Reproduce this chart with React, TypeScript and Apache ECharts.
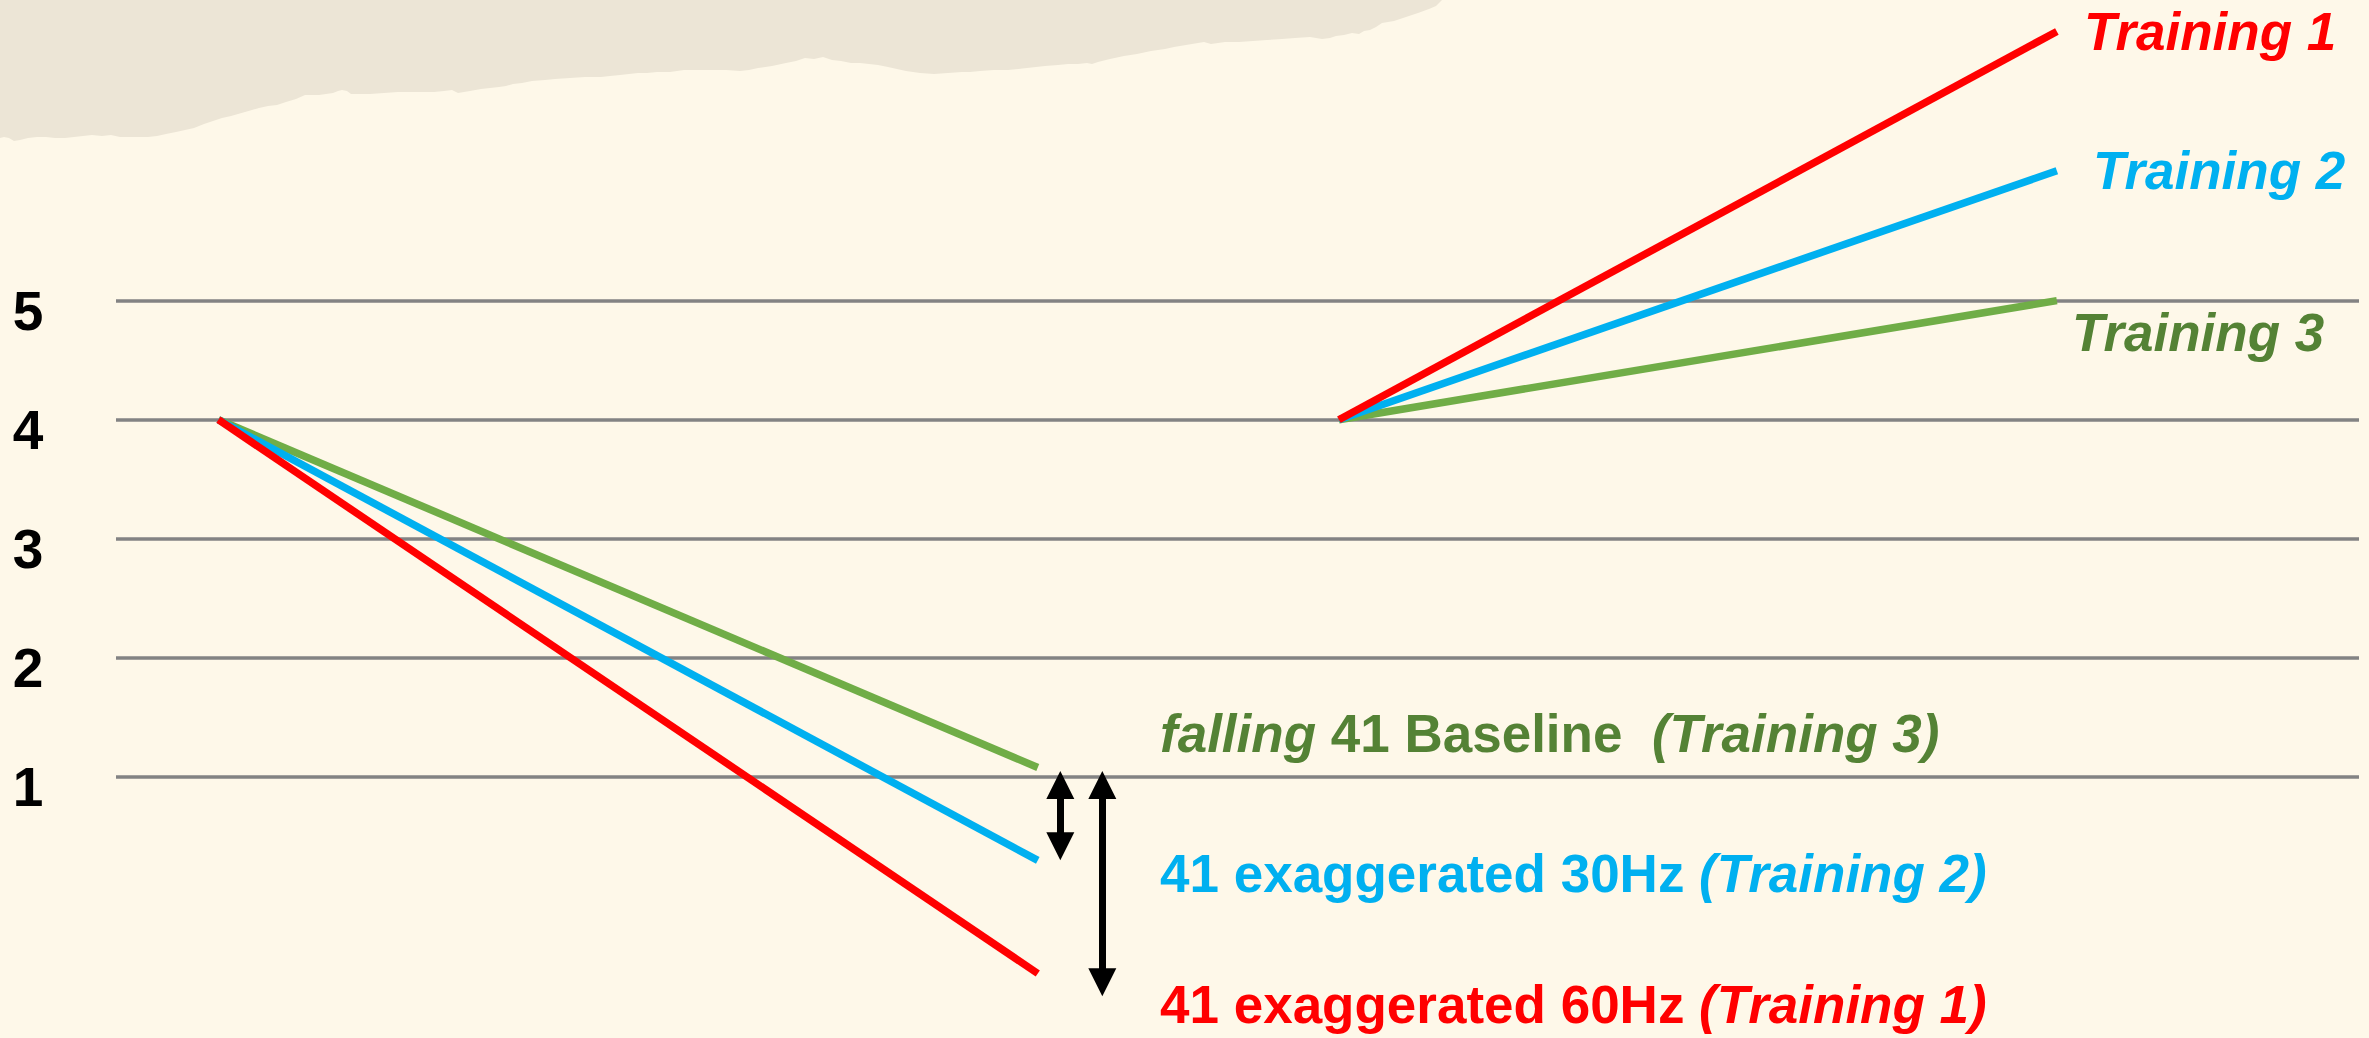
import React, { useEffect, useRef } from "react";
import * as echarts from "echarts";

// ---------- data ----------
const yTicks = [1, 2, 3, 4, 5];
const trainingNames = ["Training 1", "Training 2", "Training 3"];
// falling segment (left)
const fallX = [1, 9];
const fallStart = [4, 4, 4];
const fallEnd = [-0.65, 0.3, 1.08];
// training segment (right)
const riseX = [11.94, 18.95];
const riseStart = [4, 4, 4];
const riseEnd = [7.26, 6.09, 5.0];
// difference arrows
const arrowX = [9.22, 9.63];
const arrowTop = [1.05, 1.05];
const arrowBottom = [0.3, -0.84];

// ---------- styles ----------
const lineColors = ["#FF0000", "#00B0F0", "#70AD47"];
const textColors = ["#FF0000", "#00B0F0", "#548235"];
const FONT = '"Liberation Sans", Arial, sans-serif';
const FS = 53;
const HEAD = 28;
const LW = 7.5;

// torn paper decoration outline (pixels)
const tornEdge: number[][] = [
  [0, 0], [1442, 0], [1436, 6], [1429, 9], [1418, 13], [1406, 17], [1394, 21], [1382, 23], [1376, 27],
  [1370, 30], [1364, 31], [1359, 34], [1352, 33], [1344, 35], [1336, 36], [1330, 38], [1322, 39],
  [1310, 37], [1295, 38], [1282, 39], [1267, 40], [1253, 41], [1239, 42], [1225, 42], [1211, 44],
  [1204, 42], [1198, 43], [1186, 45], [1174, 47], [1165, 49], [1151, 51], [1137, 54], [1124, 56],
  [1110, 59], [1098, 62], [1092, 64], [1087, 63], [1078, 64], [1068, 64], [1058, 65], [1045, 66],
  [1027, 68], [1008, 70], [994, 70], [980, 71], [970, 72], [962, 72], [948, 73], [934, 74],
  [920, 73], [906, 71], [897, 69], [888, 67], [878, 65], [869, 64], [860, 63], [851, 63], [841, 61],
  [832, 60], [823, 57], [814, 59], [805, 58], [796, 61], [786, 63], [772, 66], [758, 68], [749, 70],
  [740, 71], [726, 70], [712, 70], [698, 70], [684, 70], [670, 72], [657, 72], [647, 73], [638, 73],
  [629, 74], [620, 75], [610, 76], [601, 77], [585, 77], [570, 78], [555, 79], [545, 80], [532, 81],
  [522, 83], [513, 84], [506, 86], [499, 87], [490, 88], [481, 89], [470, 91], [458, 93], [452, 90],
  [444, 91], [434, 92], [425, 92], [412, 92], [398, 92], [384, 93], [370, 94], [360, 94], [351, 94],
  [347, 91], [342, 90], [338, 91], [333, 93], [326, 94], [319, 95], [312, 95], [305, 95], [296, 99],
  [286, 102], [277, 105], [268, 106], [259, 108], [252, 110], [245, 112], [238, 114], [231, 116],
  [222, 118], [213, 121], [204, 124], [194, 128], [185, 130], [176, 132], [166, 134], [157, 136],
  [148, 137], [138, 137], [129, 137], [120, 137], [111, 135], [102, 136], [92, 135], [83, 136],
  [74, 137], [65, 138], [55, 138], [46, 137], [37, 137], [28, 138], [20, 140], [14, 141], [9, 138],
  [4, 137], [0, 138],
];

export default function App() {
  const ref = useRef<HTMLDivElement>(null);

  useEffect(() => {
    document.body.style.margin = "0";
    if (!ref.current) return;
    const chart = echarts.init(ref.current, null, { renderer: "svg" });

    const series: any[] = [];
    // draw order: Training 3 (green), Training 2 (blue), Training 1 (red)
    [2, 1, 0].forEach((i) => {
      series.push({
        type: "line",
        name: trainingNames[i] + " falling",
        data: [
          [fallX[0], fallStart[i]],
          [fallX[1], fallEnd[i]],
        ],
        showSymbol: false,
        symbol: "none",
        silent: true,
        z: 3,
        lineStyle: { color: lineColors[i], width: LW, cap: "butt" },
      });
      series.push({
        type: "line",
        name: trainingNames[i],
        data: [
          [riseX[0], riseStart[i]],
          [riseX[1], riseEnd[i]],
        ],
        showSymbol: false,
        symbol: "none",
        silent: true,
        z: 3,
        lineStyle: { color: lineColors[i], width: LW, cap: "butt" },
      });
    });

    // gridlines
    series.push({
      type: "line",
      name: "grid",
      data: [],
      silent: true,
      markLine: {
        silent: true,
        z: 1,
        symbol: ["none", "none"],
        label: { show: false },
        lineStyle: { color: "#838383", width: 3.5, type: "solid" },
        emphasis: { disabled: true },
        data: yTicks.map((v) => ({ yAxis: v })),
      },
    });

    // arrows (tip of head sits at the value; head is centred on the line end)
    const inset = HEAD / 2 / 119.1;
    series.push({
      type: "line",
      name: "arrows",
      data: [],
      silent: true,
      markLine: {
        silent: true,
        z: 6,
        symbol: ["triangle", "triangle"],
        symbolSize: HEAD,
        label: { show: false },
        lineStyle: { color: "#000000", width: 7, type: "solid" },
        itemStyle: { color: "#000000" },
        emphasis: { disabled: true },
        data: arrowX.map((x, k) => [
          { coord: [x, arrowTop[k] - inset] },
          { coord: [x, arrowBottom[k] + inset] },
        ]),
      },
    });

    const baseText = (x: number, y: number, text: string, fill: string) => ({
      type: "text",
      x,
      y,
      z: 10,
      silent: true,
      style: {
        text,
        fill,
        fontSize: FS,
        fontWeight: "bold",
        fontStyle: "italic",
        fontFamily: FONT,
        align: "left",
        verticalAlign: "middle",
        textAlign: "left",
        textVerticalAlign: "middle",
      },
    });

    const richStyles = (fill: string) => ({
      i: { fill, fontSize: FS, fontWeight: "bold", fontStyle: "italic", fontFamily: FONT },
      n: { fill, fontSize: FS, fontWeight: "bold", fontStyle: "normal", fontFamily: FONT },
    });

    const richText = (x: number, y: number, text: string, fill: string) => ({
      type: "text",
      x,
      y,
      z: 10,
      silent: true,
      style: {
        text,
        rich: richStyles(fill),
        fill,
        fontSize: FS,
        fontWeight: "bold",
        fontFamily: FONT,
        align: "left",
        verticalAlign: "middle",
        textAlign: "left",
        textVerticalAlign: "middle",
      },
    });

    const option: any = {
      animation: false,
      backgroundColor: "#FEF8E9",
      grid: { left: 116, right: 10, top: 2.85, bottom: 22.8, containLabel: false },
      xAxis: {
        type: "value",
        min: 0,
        max: 21.9,
        show: false,
      },
      yAxis: {
        type: "value",
        min: -1,
        max: 7.5,
        interval: 1,
        axisLine: { show: false },
        axisTick: { show: false },
        splitLine: { show: false },
        axisLabel: {
          show: true,
          margin: 88,
          align: "center",
          verticalAlign: "top",
          lineHeight: 20,
          color: "#000000",
          fontSize: 55,
          fontWeight: "bold",
          fontFamily: FONT,
          formatter: (v: number) => (yTicks.indexOf(v) >= 0 ? String(v) : ""),
        },
      },
      tooltip: { show: false },
      series,
      graphic: [
        {
          type: "polygon",
          z: 0,
          silent: true,
          shape: { points: tornEdge },
          style: { fill: "#ECE5D6" },
        },
        baseText(2084, 31, trainingNames[0], textColors[0]),
        baseText(2093, 170, trainingNames[1], textColors[1]),
        baseText(2072, 332, trainingNames[2], textColors[2]),
        richText(1160, 733, "{i|falling} {n|41 Baseline}  {i|(" + trainingNames[2] + ")}", textColors[2]),
        richText(1160, 873, "{n|41 exaggerated 30Hz }{i|(" + trainingNames[1] + ")}", textColors[1]),
        richText(1160, 1004, "{n|41 exaggerated 60Hz }{i|(" + trainingNames[0] + ")}", textColors[0]),
      ],
    };

    chart.setOption(option);
    return () => chart.dispose();
  }, []);

  return (
    <div style={{ position: "fixed", left: 0, top: 0, width: 2369, height: 1038, overflow: "hidden" }}>
      <div ref={ref} style={{ width: 2369, height: 1038 }} />
    </div>
  );
}
